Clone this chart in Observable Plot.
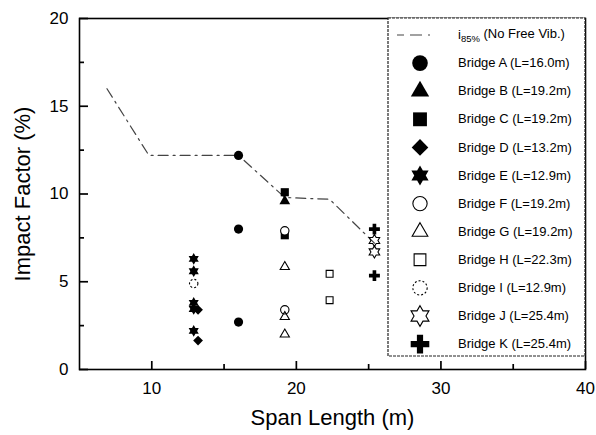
<!DOCTYPE html>
<html><head><meta charset="utf-8">
<script src="https://cdn.jsdelivr.net/npm/d3@7"></script>
<script src="https://cdn.jsdelivr.net/npm/@observablehq/plot@0.6"></script>
<style>
body{margin:0;background:#fff;}
#chart{width:596px;height:435px;}
svg{font-family:"Liberation Sans",Arial,sans-serif;}
</style></head><body><div id="chart"></div>
<script>
// ---- data ----
const xMajorTicks = [10, 20, 30, 40];
const xMinorTicks = [15, 25, 35];
const yMajorTicks = [0, 5, 10, 15, 20];
const yMinorTicks = [2.5, 7.5, 12.5, 17.5];

const i85Span = [6.9, 9.8, 16.0, 19.2, 22.3, 25.4];
const i85Impact = [16.0, 12.2, 12.2, 9.8, 9.7, 7.2];

const bridgeLabels = ["Bridge A (L=16.0m)", "Bridge B (L=19.2m)", "Bridge C (L=19.2m)", "Bridge D (L=13.2m)",
  "Bridge E (L=12.9m)", "Bridge F (L=19.2m)", "Bridge G (L=19.2m)", "Bridge H (L=22.3m)",
  "Bridge I (L=12.9m)", "Bridge J (L=25.4m)", "Bridge K (L=25.4m)"];
const bridgeSpans = [16.0, 19.2, 19.2, 13.2, 12.9, 19.2, 19.2, 22.3, 12.9, 25.4, 25.4];
const impactA = [12.2, 8.0, 2.7];
const impactB = [9.6];
const impactC = [10.1, 7.65];
const impactD = [3.4, 1.65];
const impactE = [6.3, 5.6, 3.8, 3.45, 2.2];
const impactF = [7.9, 3.4];
const impactG = [5.85, 3.0, 2.0];
const impactH = [5.45, 3.95];
const impactI = [4.9];
const impactJ = [7.35, 6.7];
const impactK = [8.0, 5.35];
const impacts = [impactA, impactB, impactC, impactD, impactE, impactF, impactG, impactH, impactI, impactJ, impactK];

// ---- symbols ----
const hexagram = {draw(ctx, size) {
  const R = Math.sqrt(size) * 0.66, r = R / Math.sqrt(3);
  for (let k = 0; k < 12; k++) {
    const a = -Math.PI / 2 + k * Math.PI / 6, rr = k % 2 ? r : R;
    const px = rr * Math.cos(a), py = rr * Math.sin(a);
    k ? ctx.lineTo(px, py) : ctx.moveTo(px, py);
  }
  ctx.closePath();
}};
const styles = [
  {symbol: d3.symbolCircle, fill: "black", r: 4.6},
  {symbol: d3.symbolTriangle, fill: "black", r: 4.0},
  {symbol: d3.symbolSquare, fill: "black", r: 4.6},
  {symbol: d3.symbolDiamond2, fill: "black", r: 4.4},
  {symbol: hexagram, fill: "black", r: 5.0},
  {symbol: d3.symbolCircle, fill: "white", stroke: "black", r: 4.2},
  {symbol: d3.symbolTriangle2, fill: "none", stroke: "black", r: 4.4},
  {symbol: d3.symbolSquare2, fill: "none", stroke: "black", r: 4.4},
  {symbol: d3.symbolCircle, fill: "none", stroke: "black", r: 4.2, dash: "2,2"},
  {symbol: hexagram, fill: "none", stroke: "black", r: 5.2},
  {symbol: d3.symbolCross, fill: "black", r: 4.6}
];

const W = 596, H = 435, mL = 79, mR = 11, mT = 18, mB = 66;
const frameW = W - mL - mR, frameH = H - mT - mB;

const i85 = i85Span.map((x, i) => ({x, y: i85Impact[i]}));

const dotMarks = impacts.map((vals, i) => {
  const s = styles[i];
  const rows = vals.map(v => ({x: bridgeSpans[i], y: v}));
  return Plot.dot(rows, {x: "x", y: "y", symbol: s.symbol, r: s.r,
    fill: s.fill, stroke: s.stroke || "none", strokeWidth: 1.1,
    strokeDasharray: s.dash});
});

const chart = Plot.plot({
  width: W, height: H,
  marginLeft: mL, marginRight: mR, marginTop: mT, marginBottom: mB,
  style: {fontFamily: "Liberation Sans, Arial, sans-serif", fontSize: "17px", background: "white", color: "black"},
  x: {domain: [5, 40]},
  y: {domain: [0, 20]},
  marks: [
    Plot.line(i85, {x: "x", y: "y", stroke: "#444", strokeWidth: 1.2, strokeDasharray: "10,5,2,5"}),
    ...dotMarks,
    Plot.axisX({ticks: xMajorTicks, tickSize: 0, tickPadding: 12, label: null, fontSize: 17}),
    Plot.axisY({ticks: yMajorTicks, tickSize: 0, tickPadding: 11, label: null, fontSize: 17}),
    Plot.tickX(xMajorTicks, {x: d => d, insetTop: frameH - 8, stroke: "black", strokeWidth: 1.7}),
    Plot.tickX(xMinorTicks, {x: d => d, insetTop: frameH - 5, stroke: "black", strokeWidth: 1.7}),
    Plot.tickY(yMajorTicks, {y: d => d, insetRight: frameW - 9, stroke: "black", strokeWidth: 1.7}),
    Plot.tickY(yMinorTicks, {y: d => d, insetRight: frameW - 5, stroke: "black", strokeWidth: 1.7}),
    Plot.frame({stroke: "black", strokeWidth: 1.6}),
    Plot.text(["Span Length (m)"], {frameAnchor: "bottom", dy: 48, textAnchor: "middle", lineAnchor: "middle", fontSize: 22}),
    Plot.text(["Impact Factor (%)"], {frameAnchor: "left", dx: -57, rotate: -90, textAnchor: "middle", lineAnchor: "middle", fontSize: 22})
  ]
});
document.getElementById("chart").append(chart);

// ---- legend (inside the frame, top-right) ----
const svg = d3.select(chart);
const lg = svg.append("g").attr("class", "legend")
  .attr("font-family", "Liberation Sans, Arial, sans-serif").attr("font-size", 13)
  .attr("text-anchor", "start");
const boxX = 388, boxY = 18, boxW = 197, boxH = 338;
lg.append("rect").attr("x", boxX).attr("y", boxY).attr("width", boxW).attr("height", boxH)
  .attr("fill", "white").attr("stroke", "#222").attr("stroke-width", 1.2).attr("stroke-dasharray", "3,1");
const rowY0 = 35, rowStep = 28.1, symX = 420, textX = 458;
lg.append("line").attr("x1", 397).attr("x2", 436).attr("y1", rowY0).attr("y2", rowY0)
  .attr("stroke", "#444").attr("stroke-width", 1.2).attr("stroke-dasharray", "7,6,12,6,2");
const t0 = lg.append("text").attr("x", textX).attr("y", rowY0).attr("dy", "0.32em");
t0.append("tspan").text("i");
t0.append("tspan").attr("font-size", 9.5).attr("dy", "0.3em").text("85%");
t0.append("tspan").attr("dy", "-0.3em").text(" (No Free Vib.)");
bridgeLabels.forEach((label, i) => {
  const s = styles[i];
  const y = rowY0 + (i + 1) * rowStep;
  const size = Math.PI * Math.pow(s.r * 1.7, 2);
  lg.append("path").attr("transform", `translate(${symX},${y})`)
    .attr("d", d3.symbol(s.symbol, size)())
    .attr("fill", s.fill)
    .attr("stroke", s.stroke || "none").attr("stroke-width", 1.1)
    .attr("stroke-dasharray", s.dash || null);
  lg.append("text").attr("x", textX).attr("y", y).attr("dy", "0.32em").text(label);
});
</script></body></html>
